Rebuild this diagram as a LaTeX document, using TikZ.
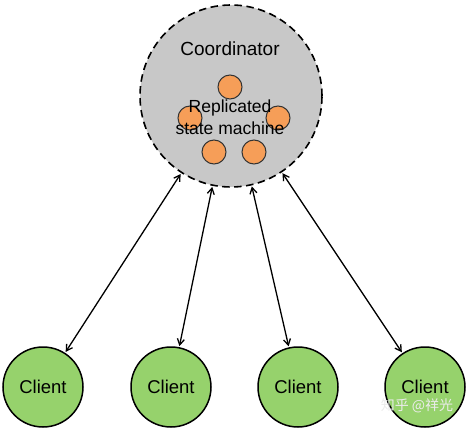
\documentclass[tikz,border=0pt]{standalone}
\usepackage{fontspec}
\setmainfont{Liberation Sans}
\newfontfamily\cjkfont{Noto Sans CJK SC}
\usetikzlibrary{arrows.meta}
\definecolor{coordgray}{RGB}{200,200,200}
\definecolor{replorange}{RGB}{246,158,88}
\definecolor{clientgreen}{RGB}{150,210,108}
\tikzset{
  coordbox/.style={circle, draw=black, fill=coordgray, line width=1.6pt, dash pattern=on 7.5pt off 4.5pt, minimum size=182pt, inner sep=0pt},
  replnode/.style={circle, draw=black!80, fill=replorange, line width=1pt, minimum size=24pt, inner sep=0pt},
  clientnode/.style={circle, draw=black, fill=clientgreen, line width=1.5pt, minimum size=80pt, inner sep=0pt, font=\fontsize{18.5}{20}\selectfont},
  link/.style={line width=1.3pt, {Straight Barb[length=6pt,width=7pt]}-{Straight Barb[length=6pt,width=7pt]}, shorten <=1pt, shorten >=1pt},
  label/.style={inner sep=0pt}
}
\begin{document}
\begin{tikzpicture}[x=1pt,y=-1pt]
\useasboundingbox (0,0) rectangle (468,430);
\node[coordbox] (coord) at (231,96) {};
\node[label, font=\fontsize{19}{21}\selectfont] (ctitle) at (230,49) {Coordinator};
\node[replnode] (r1) at (230,87) {};
\node[replnode] (r2) at (190,118) {};
\node[replnode] (r3) at (278,118) {};
\node[replnode] (r4) at (214,152) {};
\node[replnode] (r5) at (254,152) {};
\node[label, font=\fontsize{17.5}{19}\selectfont] (rtext1) at (230,108) {Replicated};
\node[label, font=\fontsize{17.5}{19}\selectfont] (rtext2) at (230,128) {state machine};
\node[clientnode] (c1) at (43,387) {Client};
\node[clientnode] (c2) at (171,387) {Client};
\node[clientnode] (c3) at (298,387) {Client};
\node[clientnode] (c4) at (425,387) {Client};
\draw[link] (coord) -- (c1);
\draw[link] (coord) -- (c2);
\draw[link] (coord) -- (c3);
\draw[link] (coord) -- (c4);
\node[label, text=white!92!black, font=\cjkfont\fontsize{14}{16}\selectfont] (wm) at (417,406) {知乎 @祥光};
\end{tikzpicture}
\end{document}
